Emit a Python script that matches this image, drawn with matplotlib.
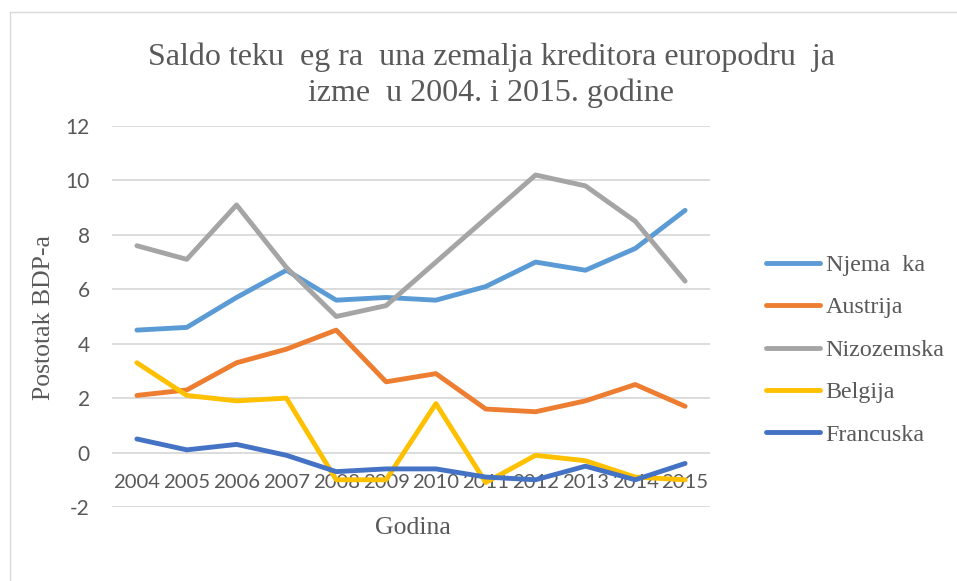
import matplotlib
matplotlib.use("Agg")
import matplotlib.pyplot as plt
from matplotlib.patches import Rectangle

years = ["2004", "2005", "2006", "2007", "2008", "2009", "2010", "2011", "2012", "2013", "2014", "2015"]
njemacka = [4.5, 4.6, 5.7, 6.7, 5.6, 5.7, 5.6, 6.1, 7.0, 6.7, 7.5, 8.9]
austrija = [2.1, 2.3, 3.3, 3.8, 4.5, 2.6, 2.9, 1.6, 1.5, 1.9, 2.5, 1.7]
nizozemska = [7.6, 7.1, 9.1, 6.8, 5.0, 5.4, 7.0, 8.6, 10.2, 9.8, 8.5, 6.3]
belgija = [3.3, 2.1, 1.9, 2.0, -1.0, -1.0, 1.8, -1.1, -0.1, -0.3, -0.9, -1.0]
francuska = [0.5, 0.1, 0.3, -0.1, -0.7, -0.6, -0.6, -0.9, -1.0, -0.5, -1.0, -0.4]
series_names = ["Njema  ka", "Austrija", "Nizozemska", "Belgija", "Francuska"]
y_ticks = [-2, 0, 2, 4, 6, 8, 10, 12]

title_text = "Saldo teku  eg ra  una zemalja kreditora europodru  ja\nizme  u 2004. i 2015. godine"
colors = ["#5B9BD5", "#ED7D31", "#A5A5A5", "#FFC000", "#4472C4"]

W, H = 957, 581
fig = plt.figure(figsize=(W / 100, H / 100), dpi=100)
ax = fig.add_axes([112 / W, 1 - 507 / H, (710 - 112) / W, (507 - 126) / H])

serif = "Liberation Serif"
sans = "Lato"
txtc = "#595959"

x = list(range(len(years)))
for vals, name, c in zip([njemacka, austrija, nizozemska, belgija, francuska], series_names, colors):
    ax.plot(x, vals, color=c, lw=3.5, solid_capstyle="round", solid_joinstyle="round", label=name, zorder=3)

ax.set_xlim(-0.5, len(years) - 0.5)
ax.set_ylim(-2, 12)
ax.set_yticks(y_ticks)
ax.set_yticklabels([str(v) for v in y_ticks], fontfamily=sans, fontsize=15, color=txtc)
ax.yaxis.grid(True, color="#D9D9D9", lw=1.3, zorder=0)
ax.tick_params(axis="y", length=0, pad=16)
for s in ax.spines.values():
    s.set_visible(False)

ax.spines["bottom"].set_position(("data", 0))
ax.set_xticks(x)
ax.set_xticklabels(years, fontfamily=sans, fontsize=14.6, color=txtc)
ax.tick_params(axis="x", length=0, pad=15.5)

fig.text(44 / W, 1 - 317 / H, "Postotak BDP-a", rotation=90, ha="center", va="center",
         fontfamily=serif, fontsize=18.5, color=txtc)
fig.text(413 / W, 1 - 528 / H, "Godina", ha="center", va="center",
         fontfamily=serif, fontsize=18.5, color=txtc)
fig.text(491 / W, 1 - 75 / H, title_text, ha="center", va="center", linespacing=1.3,
         fontfamily=serif, fontsize=23, color=txtc)

leg = ax.legend(loc="center left", bbox_to_anchor=(744 / W, 1 - 350 / H), bbox_transform=fig.transFigure,
                frameon=False, prop={"family": serif, "size": 17.3}, labelcolor=txtc,
                handlelength=2.25, handletextpad=0.25, labelspacing=0.86)

fig.add_artist(Rectangle((10 / W, -0.1), 1.2, 1 - 12 / H + 0.1, transform=fig.transFigure,
                         fill=False, edgecolor="#D9D9D9", lw=1.0))

fig.savefig("out.png", dpi=100)
